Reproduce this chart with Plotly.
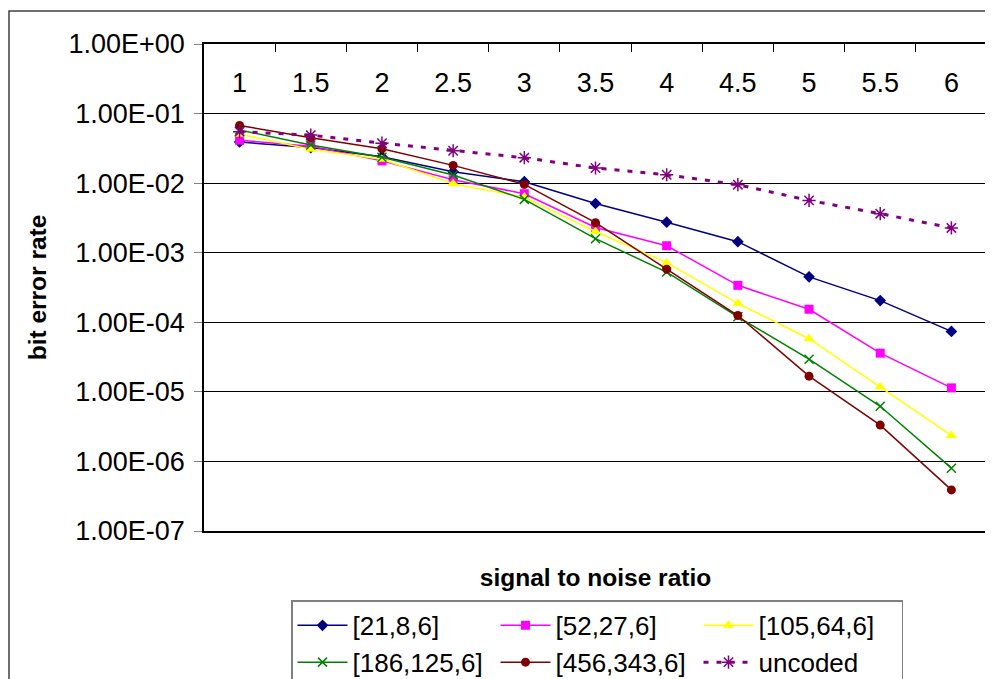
import plotly.graph_objects as go

# ---- data ----
snr = ["1", "1.5", "2", "2.5", "3", "3.5", "4", "4.5", "5", "5.5", "6"]

ber_21_8_6 = [0.039, 0.0324, 0.024, 0.0146, 0.0105, 0.0051, 0.00275, 0.00144, 4.5e-4, 2.05e-4, 7.4e-5]
ber_52_27_6 = [0.0414, 0.034, 0.0209, 0.0112, 0.00705, 0.0023, 0.00126, 3.4e-4, 1.54e-4, 3.6e-5, 1.14e-5]
ber_105_64_6 = [0.0505, 0.0306, 0.0221, 0.0098, 0.0063, 0.00202, 7.2e-4, 1.87e-4, 5.8e-5, 1.17e-5, 2.36e-6]
ber_186_125_6 = [0.058, 0.0353, 0.0236, 0.0131, 0.00584, 0.00159, 5.27e-4, 1.2e-4, 2.95e-5, 6.2e-6, 8.0e-7]
ber_456_343_6 = [0.0673, 0.045, 0.0311, 0.018, 0.0096, 0.0027, 5.8e-4, 1.25e-4, 1.68e-5, 3.33e-6, 3.9e-7]
ber_uncoded = [0.055, 0.049, 0.0376, 0.0292, 0.0232, 0.0165, 0.0132, 0.0095, 0.00565, 0.00364, 0.00227]

series_names = ["[21,8,6]", "[52,27,6]", "[105,64,6]", "[186,125,6]", "[456,343,6]", "uncoded"]

y_tick_vals = [1e0, 1e-1, 1e-2, 1e-3, 1e-4, 1e-5, 1e-6, 1e-7]
y_tick_text = ["1.00E+00", "1.00E-01", "1.00E-02", "1.00E-03", "1.00E-04", "1.00E-05", "1.00E-06", "1.00E-07"]

FONT = "Liberation Sans, Arial, sans-serif"

# ---- figure ----
fig = go.Figure()

styles = [
    (ber_21_8_6, "#000080", dict(symbol="diamond", size=9, color="#000080"), "solid", 1.5),
    (ber_52_27_6, "#FF00FF", dict(symbol="square", size=9, color="#FF00FF"), "solid", 1.5),
    (ber_105_64_6, "#FFFF00", dict(symbol="triangle-up", size=10, color="#FFFF00"), "solid", 1.5),
    (ber_186_125_6, "#008000", dict(symbol="x-thin-open", size=9, color="#008000",
                                    line=dict(width=1.5, color="#008000")), "solid", 1.5),
    (ber_456_343_6, "#800000", dict(symbol="circle", size=9, color="#800000"), "solid", 1.5),
    (ber_uncoded, "#800080", dict(symbol="asterisk-open", size=11, color="#800080",
                                  line=dict(width=1.5, color="#800080")), "5px,8px", 3),
]

for name, (vals, col, mk, dash, lw) in zip(series_names, styles):
    fig.add_trace(go.Scatter(
        x=snr, y=vals, name=name, mode="lines+markers",
        line=dict(color=col, width=lw, dash=dash),
        marker=mk,
    ))

# empty helper trace so the bottom (title-only) axis is drawn
fig.add_trace(go.Scatter(x=[], y=[], xaxis="x2", yaxis="y", showlegend=False,
                         hoverinfo="skip", mode="markers"))

# page body has an 8px margin -> figure is drawn 8px right/down
OFF = 8
W, H = 993 - OFF, 679 - OFF
L, T, R, B = 204 - OFF, 44 - OFF, 6, 679 - 531.5
pw, ph = W - L - R, H - T - B

fig.update_layout(
    width=W, height=H,
    margin=dict(l=L, r=R, t=T, b=B, autoexpand=False),
    paper_bgcolor="white", plot_bgcolor="white",
    font=dict(family=FONT, color="black", size=26),
    showlegend=True,
    legend=dict(
        orientation="h", x=(291 - 204) / pw, xanchor="left",
        y=(531.5 - 601) / ph, yanchor="top",
        bordercolor="#808080", borderwidth=1.5, bgcolor="white",
        font=dict(family=FONT, size=26, color="black"),
        entrywidth=138, entrywidthmode="pixels", itemwidth=50,
    ),
    xaxis=dict(
        type="category", side="top", range=[-0.5, 10.5],
        ticks="inside", ticklen=8, tickcolor="black", tickwidth=1,
        tickson="boundaries",
        ticklabelstandoff=-61,
        showline=True, linecolor="black", linewidth=1.5, mirror=True,
        showgrid=False, zeroline=False,
        tickfont=dict(family=FONT, size=27, color="black"),
    ),
    xaxis2=dict(
        overlaying="x", side="bottom", anchor="y", range=[0, 1],
        showticklabels=False, ticks="", showgrid=False, zeroline=False, showline=False,
        title=dict(text="signal to noise ratio", standoff=37,
                   font=dict(family=FONT, size=24.5, color="black", weight="bold")),
    ),
    yaxis=dict(
        type="log", range=[-7, 0],
        tickmode="array", tickvals=y_tick_vals, ticktext=y_tick_text,
        ticks="outside", ticklen=8, tickcolor="#808080", ticklabelstandoff=4,
        showline=True, linecolor="black", linewidth=1.5, mirror=True,
        showgrid=True, gridcolor="black", gridwidth=1,
        zeroline=False,
        tickfont=dict(family=FONT, size=27, color="black"),
        title=dict(text="bit error rate", standoff=15,
                   font=dict(family=FONT, size=24.5, color="black", weight="bold")),
    ),
    shapes=[dict(
        type="rect", xref="paper", yref="paper", layer="below",
        x0=(9 - 204) / pw, y0=(531.5 - 11) / ph, x1=1.2, y1=-0.6,
        line=dict(color="#404040", width=1.5), fillcolor="rgba(0,0,0,0)",
    )],
)

fig.write_html("out.html")
